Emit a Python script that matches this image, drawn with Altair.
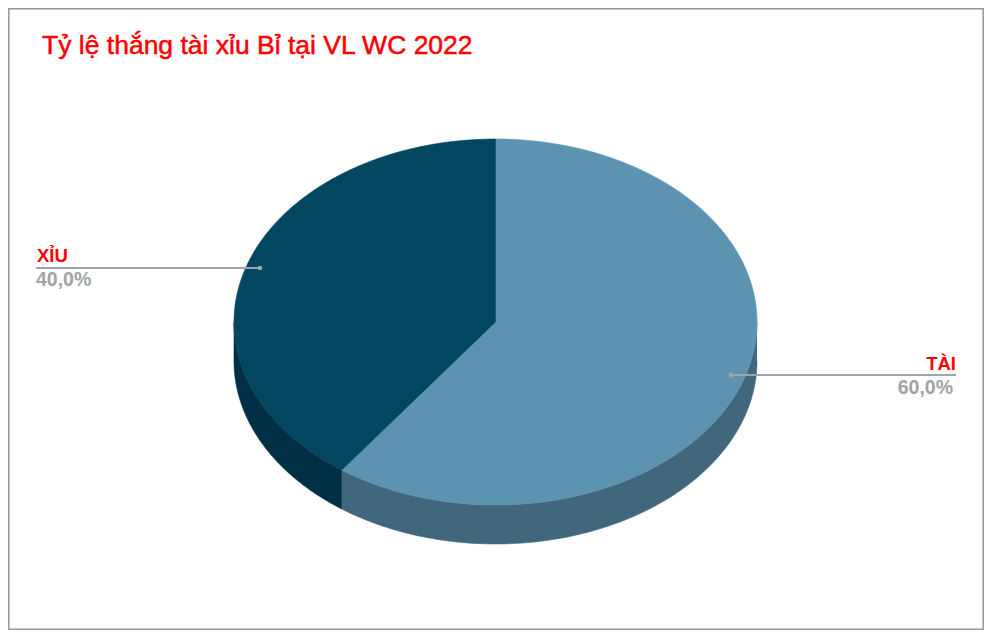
import math
import altair as alt
import pandas as pd

categories = ["TÀI", "XỈU"]
shares = [60.0, 40.0]
top_colors = ["#5b93b0", "#02465f"]
side_colors = ["#41677d", "#012f45"]
title_text = "Tỷ lệ thắng tài xỉu Bỉ tại VL WC 2022"

CX, CY, RX, RY, DEPTH = 495.5, 322.0, 261.5, 183.0, 39.0
STEPS = 120

x_scale = alt.Scale(domain=[8, 984], range=[0, 976], nice=False, zero=False)
y_scale = alt.Scale(domain=[8, 630], range=[0, 622], nice=False, zero=False)
X = lambda f="x": alt.X(f"{f}:Q", scale=x_scale, axis=None)
Y = lambda f="y": alt.Y(f"{f}:Q", scale=y_scale, axis=None)


def pt(deg, drop=0.0):
    a = math.radians(deg)
    return CX + RX * math.sin(a), CY - RY * math.cos(a) + drop


def poly(points, color, stroke=None):
    df = pd.DataFrame(points, columns=["x", "y"])
    df["i"] = range(len(df))
    return alt.Chart(df).mark_line(
        fill=color, stroke=stroke or color, strokeWidth=0.6, clip=False
    ).encode(x=X(), y=Y(), order="i:Q")


layers = []
# frame
frame = pd.DataFrame({"x": [8.8], "x2": [983.2], "y": [8.8], "y2": [629.2]})
layers.append(alt.Chart(frame).mark_rect(fill="white", stroke="#969696", strokeWidth=1.5).encode(
    x=X(), x2="x2:Q", y=Y(), y2="y2:Q"))

# side walls, then top faces
start = 0.0
spans = []
for s in shares:
    spans.append((start, start + s * 3.6))
    start += s * 3.6

for (a, b), col in zip(spans, side_colors):
    lo, hi = max(a, 90.0), min(b, 270.0)
    if hi <= lo:
        continue
    arc = [lo + (hi - lo) * k / STEPS for k in range(STEPS + 1)]
    layers.append(poly([pt(d) for d in arc] + [pt(d, DEPTH) for d in reversed(arc)], col))

for (a, b), col in zip(spans, top_colors):
    arc = [a + (b - a) * k / STEPS for k in range(STEPS + 1)]
    layers.append(poly([(CX, CY)] + [pt(d) for d in arc] + [(CX, CY)], col))

# leaders
leaders = pd.DataFrame({"x": [731.0, 36.0], "x2": [956.0, 260.0], "y": [375.0, 268.0]})
layers.append(alt.Chart(leaders).mark_rule(color="#a3a3a3", strokeWidth=2).encode(
    x=X(), x2="x2:Q", y=Y()))
dots = pd.DataFrame({"x": [731.0, 260.0], "y": [375.0, 268.0]})
layers.append(alt.Chart(dots).mark_circle(color="#a3a3a3", size=22, opacity=1).encode(x=X(), y=Y()))

# labels
cat = pd.DataFrame({"x": [956.0, 37.0], "y": [370.0, 262.0], "t": categories})
pct = pd.DataFrame({"x": [953.0, 36.0], "y": [394.0, 286.0],
                    "t": [f"{v:.1f}%".replace(".", ",") for v in shares]})
font = "Liberation Sans"
layers.append(alt.Chart(cat.iloc[[0]]).mark_text(font=font, fontSize=18.5, fontWeight="bold", color="#ff0000",
              align="right", baseline="alphabetic").encode(x=X(), y=Y(), text="t:N"))
layers.append(alt.Chart(cat.iloc[[1]]).mark_text(font=font, fontSize=18.5, fontWeight="bold", color="#ff0000",
              align="left", baseline="alphabetic").encode(x=X(), y=Y(), text="t:N"))
layers.append(alt.Chart(pct.iloc[[0]]).mark_text(font=font, fontSize=19.5, fontWeight="bold", color="#a3a3a3",
              align="right", baseline="alphabetic").encode(x=X(), y=Y(), text="t:N"))
layers.append(alt.Chart(pct.iloc[[1]]).mark_text(font=font, fontSize=19.5, fontWeight="bold", color="#a3a3a3",
              align="left", baseline="alphabetic").encode(x=X(), y=Y(), text="t:N"))
ttl = pd.DataFrame({"x": [42.0], "y": [54.0], "t": [title_text]})
layers.append(alt.Chart(ttl).mark_text(font=font, fontSize=26.5, color="#ff0000", fontWeight="normal",
              stroke="#ff0000", strokeWidth=0.5,
              align="left", baseline="alphabetic").encode(x=X(), y=Y(), text="t:N"))

chart = alt.layer(*layers).properties(width=976, height=622, padding=0, background="white").configure_view(stroke=None)
chart.save("out.html", embed_options={"renderer": "svg", "actions": False})
